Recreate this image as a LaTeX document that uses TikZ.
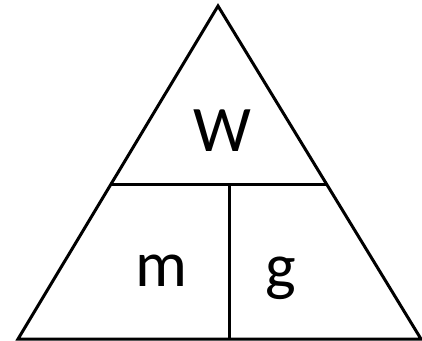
\documentclass[tikz,border=0pt]{standalone}
\usepackage{fontspec}
\setmainfont{Carlito}
\usetikzlibrary{calc}
\tikzstyle{edge} = [line width=3pt, line join=miter]
\tikzstyle{letter} = [font=\fontsize{65}{65}\selectfont, inner sep=0pt]

\begin{document}
\begin{tikzpicture}[x=1pt, y=1pt]
    \useasboundingbox (0,0) rectangle (422,340);
    \coordinate (top) at (218,334);
    \coordinate (bl) at (18,1);
    \coordinate (br) at (421,1);
    \coordinate (ml) at ($(bl)!0.4625!(top)$);
    \coordinate (mr) at ($(br)!0.4625!(top)$);
    \coordinate (mid) at (229,155);
    \coordinate (bm) at (229,1);

    \draw [edge] (bl) -- (top) -- (br) -- cycle;
    \draw [edge] (ml) -- (mr);
    \draw [edge] (mid) -- (bm);

    \node (w) [letter] at (222,209) {W};
    \node (m) [letter] at (161,69) {m};
    \node (g) [letter] at (281,62) {g};
\end{tikzpicture}
\end{document}
